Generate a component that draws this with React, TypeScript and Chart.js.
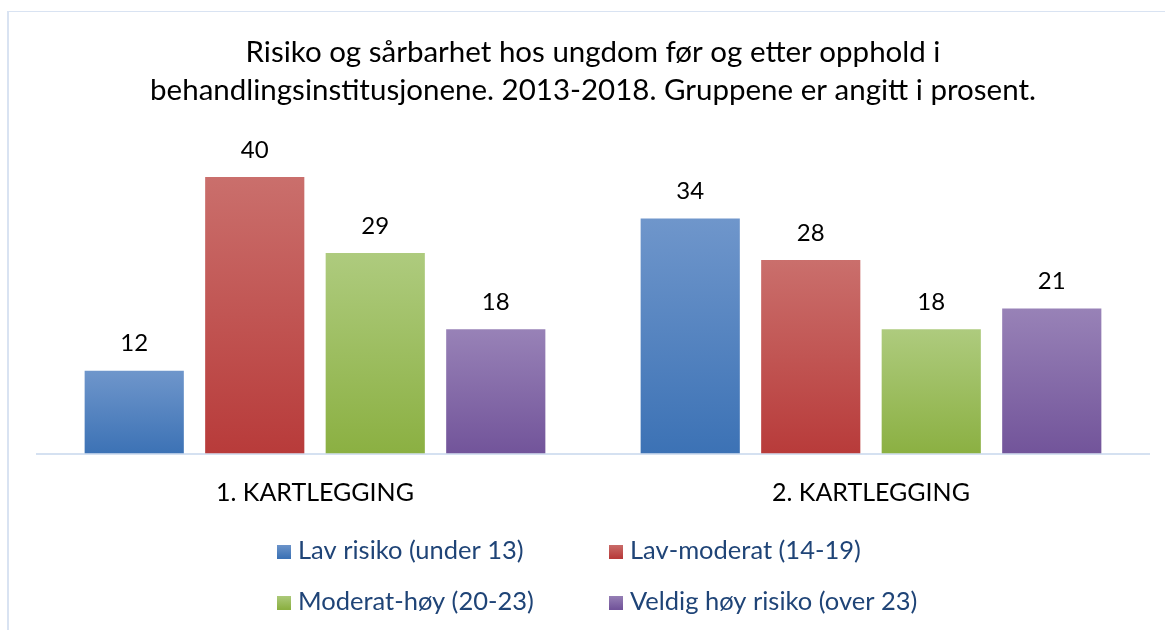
import React, { useEffect, useRef } from "react";
import { Chart, registerables } from "chart.js";

Chart.register(...registerables);

const titleLines = [
  "Risiko og sårbarhet hos ungdom før og etter opphold i",
  "behandlingsinstitusjonene. 2013-2018. Gruppene er angitt i prosent.",
];
const categories = ["1. KARTLEGGING", "2. KARTLEGGING"];
const seriesNames = [
  "Lav risiko (under 13)",
  "Lav-moderat (14-19)",
  "Moderat-høy (20-23)",
  "Veldig høy risiko (over 23)",
];
const lavRisiko = [12, 34];
const lavModerat = [40, 28];
const moderatHoy = [29, 18];
const veldigHoy = [18, 21];
const seriesValues = [lavRisiko, lavModerat, moderatHoy, veldigHoy];

const topColors = ["#6f96cb", "#ca6f6c", "#aecb7e", "#9882b7"];
const bottomColors = ["#3c72b5", "#b83b3a", "#8bb042", "#72549a"];

const FONT = "Lato, 'Open Sans', sans-serif";

function gradientFor(i: number) {
  return (ctx: any) => {
    const chart = ctx.chart;
    const area = chart.chartArea;
    const y = chart.scales && chart.scales.y;
    if (!area || !y || ctx.type !== "data") return bottomColors[i];
    const v = ctx.raw as number;
    const top = y.getPixelForValue(v);
    const bottom = y.getPixelForValue(0);
    const g = chart.ctx.createLinearGradient(0, top, 0, bottom);
    g.addColorStop(0, topColors[i]);
    g.addColorStop(1, bottomColors[i]);
    return g;
  };
}

const valueLabels = {
  id: "valueLabels",
  afterDatasetsDraw(chart: any) {
    const ctx = chart.ctx;
    ctx.save();
    ctx.font = `24px ${FONT}`;
    ctx.fillStyle = "#000000";
    ctx.textAlign = "center";
    ctx.textBaseline = "middle";
    chart.data.datasets.forEach((ds: any, di: number) => {
      const meta = chart.getDatasetMeta(di);
      meta.data.forEach((bar: any, j: number) => {
        ctx.fillText(String(ds.data[j]), bar.x, bar.y - 27);
      });
    });
    ctx.restore();
  },
};

const gridLegend = {
  id: "gridLegend",
  afterDraw(chart: any) {
    const ctx = chart.ctx;
    const colX = [277, 609];
    const rowY = [551, 602];
    ctx.save();
    ctx.font = `25.5px ${FONT}`;
    ctx.textBaseline = "middle";
    ctx.textAlign = "left";
    seriesNames.forEach((name, i) => {
      const x = colX[i % 2];
      const y = rowY[Math.floor(i / 2)];
      const g = ctx.createLinearGradient(0, y - 7, 0, y + 7);
      g.addColorStop(0, topColors[i]);
      g.addColorStop(1, bottomColors[i]);
      ctx.fillStyle = g;
      ctx.fillRect(x, y - 6, 14, 14);
      ctx.fillStyle = "#1f4477";
      ctx.fillText(name, x + 21, y);
    });
    ctx.restore();
  },
};

export default function App() {
  const ref = useRef<HTMLCanvasElement>(null);
  useEffect(() => {
    if (!ref.current) return;
    const chart = new Chart(ref.current, {
      type: "bar",
      data: {
        labels: categories,
        datasets: seriesValues.map((vals, i) => ({
          label: seriesNames[i],
          data: vals,
          backgroundColor: gradientFor(i),
          borderWidth: 0,
          categoryPercentage: 0.867,
          barPercentage: 0.823,
        })),
      },
      options: {
        animation: false,
        responsive: false,
        layout: { padding: { left: 37, right: 16, top: 0, bottom: 98.4 } },
        plugins: {
          legend: { display: false },
          tooltip: { enabled: false },
          title: {
            display: true,
            text: titleLines,
            color: "#000000",
            font: { family: FONT, size: 29.5, weight: "normal", lineHeight: 1.288 },
            padding: { top: 33, bottom: 33.5 },
          },
        },
        scales: {
          x: {
            grid: { display: false, drawTicks: false },
            border: { display: true, color: "#d5e1f1", width: 2 },
            ticks: {
              color: "#000000",
              font: { family: FONT, size: 25 },
              padding: 24,
            },
          },
          y: {
            display: false,
            min: 0,
            max: 45,
          },
        },
      },
      plugins: [valueLabels, gridLegend],
    });
    return () => chart.destroy();
  }, []);

  return (
    <div style={{ position: "fixed", left: 0, top: 0, width: 1165, height: 630, background: "#ffffff" }}>
      <canvas ref={ref} width={1165} height={630} style={{ position: "absolute", left: 0, top: 0 }} />
      <div
        style={{
          position: "absolute",
          left: 7,
          top: 11,
          right: 0,
          bottom: 0,
          borderLeft: "2px solid #d9e3f2",
          borderTop: "1px solid #d9e3f2",
          pointerEvents: "none",
        }}
      />
    </div>
  );
}
